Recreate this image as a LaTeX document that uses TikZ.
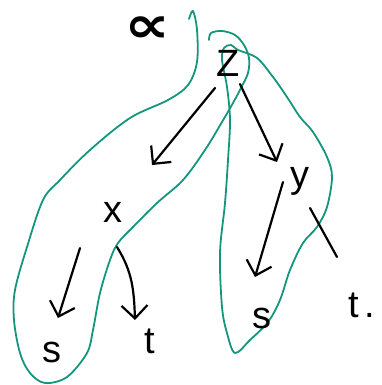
\documentclass[tikz,border=0pt]{standalone}
\usepackage{fontspec}
\setmainfont{Liberation Sans}
\newfontfamily\symf{DejaVu Sans}
\usetikzlibrary{arrows.meta}
\definecolor{loopgreen}{RGB}{20,150,125}
\begin{document}
\begin{tikzpicture}[x=1pt,y=1pt,
  lbl/.style={inner sep=0pt, font=\fontsize{38}{40}\selectfont},
  arr/.style={draw=black, line width=2.2pt, line cap=round, line join=round,
              -{Straight Barb[length=13pt,width=26pt]}},
  plainedge/.style={draw=black, line width=2.2pt, line cap=round},
  greenloop/.style={draw=loopgreen, line width=1.8pt, line cap=round, line join=round}]
\useasboundingbox (0,0) rectangle (382,-385);

% green loops
\draw[greenloop] plot[smooth, tension=0.55] coordinates {
 (189,-19) (193,-11) (197,-30) (197,-62) (188,-85) (168,-100) (130,-118)
 (90,-150) (60,-180) (43,-200) (27,-247) (15,-290) (14,-320) (20,-353)
 (30,-373) (45,-383) (67,-377) (87,-353) (93,-330) (100,-293) (110,-260)
 (118,-243) (133,-227) (157,-203) (183,-180) (205,-150) (222,-122)
 (233,-103) (241,-88) (248,-73) (249,-58) (244,-45) (235,-35) (222,-31)
 (211,-33) (209,-40)};
\draw[greenloop] plot[smooth cycle, tension=0.55] coordinates {
 (238,-50) (257,-58) (273,-77) (287,-97) (300,-117) (313,-132) (327,-157)
 (332,-177) (327,-207) (317,-227) (303,-243) (290,-270) (280,-300)
 (268,-322) (250,-340) (235,-353) (227,-333) (222,-307) (220,-253)
 (225,-203) (228,-160) (230,-120) (227,-87) (222,-60) (224,-48) (231,-45)};

% labels
\node[lbl, font=\fontsize{34}{34}\selectfont\symf\bfseries, anchor=base] (al) at (147,-43) {\scalebox{1.9}[1.5]{∝}};
\node[lbl] (Z)  at (228,-63)  {Z};
\node[lbl] (x)  at (113,-212) {x};
\node[lbl] (y)  at (300,-181) {y};
\node[lbl] (s1) at (52,-352)  {s};
\node[lbl] (t1) at (150,-341) {t};
\node[lbl] (s2) at (262,-318) {s};
\node[lbl] (t2) at (362,-305) {t\hspace{5pt}.};

% connectors
\draw[arr] ([shift={(-13,-25)}]Z.center) -- ([shift={(39,47)}]x.center);
\draw[arr] ([shift={(12,-21)}]Z.center) -- ([shift={(-23,19)}]y.center);
\draw[arr] ([shift={(-33,-36)}]x.center) -- ([shift={(6,34)}]s1.center);
\draw[arr] ([shift={(4,-35)}]x.center) to[out=-58,in=92] ([shift={(-15,21)}]t1.center);
\draw[arr] ([shift={(-17,-1)}]y.center) -- ([shift={(-7,41)}]s2.center);
\draw[plainedge] ([shift={(10,-27)}]y.center) -- ([shift={(-25,48)}]t2.center);
\end{tikzpicture}
\end{document}
